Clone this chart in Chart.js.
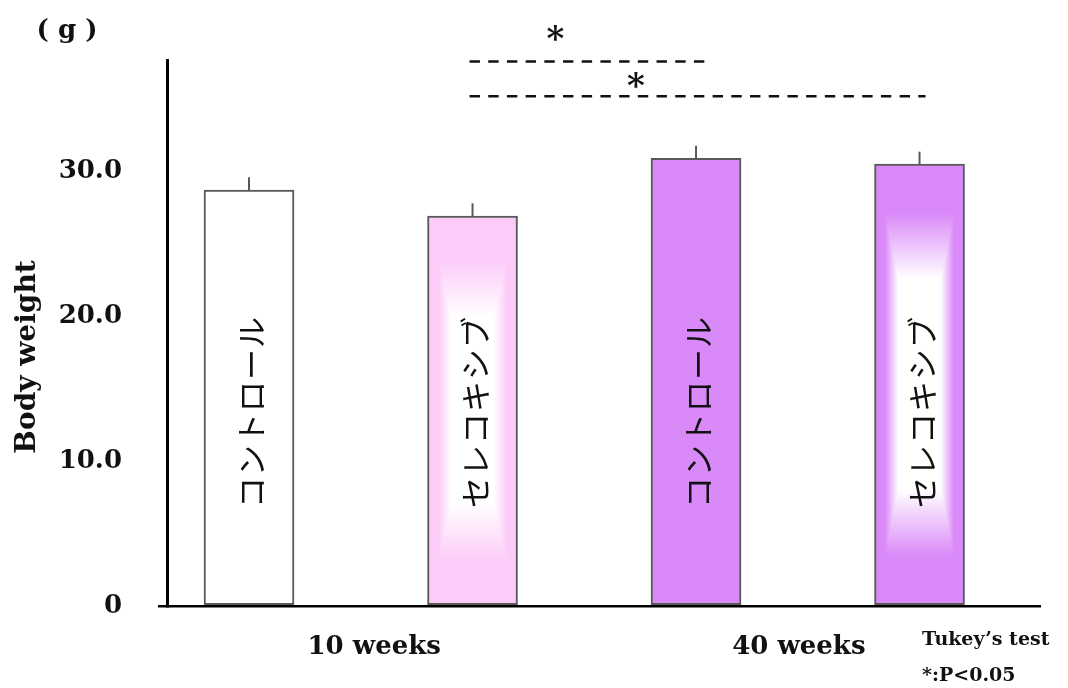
<!DOCTYPE html>
<html>
<head>
<meta charset="utf-8">
<script src="https://cdn.jsdelivr.net/npm/chart.js@4.4.1/dist/chart.umd.min.js"></script>
<style>
  html, body { margin: 0; padding: 0; background: #ffffff; }
  #wrap { width: 1068px; height: 688px; }
</style>
</head>
<body>
<div id="wrap"><canvas id="c" width="1068" height="688"></canvas></div>
<script>
// ---- data ----
const groupLabels = ['10 weeks', '40 weeks'];
const barNames = ['コントロール', 'セレコキシブ', 'コントロール', 'セレコキシブ'];
const means = [28.72, 26.93, 30.91, 30.52];
const sds = [0.88, 0.88, 0.87, 0.85];
const yTicks = [0, 10, 20, 30];
const sigPairs = [[1, 2], [1, 3]];
const sigMarks = ['*', '*'];

// ---- styling ----
const PINK = '#FCCBF8';
const PURPLE = '#DA8AF8';
const barColors = ['#FFFFFF', PINK, PURPLE, PURPLE];
const barGlow = [false, true, false, true];
const SERIF = '"DejaVu Serif", serif';
const EDGE = '#595959';

// bar i sits at x = i + 1 on a linear axis
const points = means.map((m, i) => ({ x: i + 1, y: m }));

// white "rectangle" glow: solid white core, fading outwards to the bar colour
function glowImage(w, h) {
  const off = document.createElement('canvas');
  off.width = w; off.height = h;
  const g = off.getContext('2d');
  const img = g.createImageData(w, h);
  const hw = w / 2, hh = h / 2;
  for (let yy = 0; yy < h; yy++) {
    for (let xx = 0; xx < w; xx++) {
      const t = Math.max(Math.abs(xx + 0.5 - hw) / hw, Math.abs(yy + 0.5 - hh) / hh);
      let a = 1 - (t - 0.48) / 0.30;
      a = Math.max(0, Math.min(1, a));
      const k = (yy * w + xx) * 4;
      img.data[k] = 255; img.data[k + 1] = 255; img.data[k + 2] = 255;
      img.data[k + 3] = Math.round(a * 255);
    }
  }
  g.putImageData(img, 0, 0);
  return off;
}

function textCentered(ctx, str, x, cy) {
  const m = ctx.measureText(str);
  ctx.textBaseline = 'alphabetic';
  ctx.fillText(str, x, cy + (m.actualBoundingBoxAscent - m.actualBoundingBoxDescent) / 2);
}

const decor = {
  id: 'decor',
  afterDatasetsDraw(chart) {
    const ctx = chart.ctx;
    const meta = chart.getDatasetMeta(0);
    const ys = chart.scales.y;
    meta.data.forEach((bar, i) => {
      const half = bar.width / 2;
      const left = bar.x - half, right = bar.x + half;
      const top = bar.y, bottom = bar.base;
      if (barGlow[i]) {
        const inset = 1;
        const w = Math.round(right - left - 2 * inset);
        const h = Math.round(bottom - top - 2 * inset);
        ctx.drawImage(glowImage(w, h), left + inset, top + inset);
      }
      // error bar (upper whisker only)
      ctx.save();
      ctx.strokeStyle = EDGE;
      ctx.lineWidth = 2;
      ctx.beginPath();
      ctx.moveTo(bar.x, top);
      ctx.lineTo(bar.x, ys.getPixelForValue(means[i] + sds[i]));
      ctx.stroke();
      ctx.restore();
      // vertical name inside the bar
      ctx.save();
      ctx.translate(bar.x + 2, ys.getPixelForValue(13.4));
      ctx.rotate(-Math.PI / 2);
      ctx.fillStyle = '#111';
      ctx.font = '31px "Noto Sans CJK JP"';
      ctx.letterSpacing = '1px';
      ctx.textAlign = 'center';
      textCentered(ctx, barNames[i], 0, 0);
      ctx.restore();
    });

    // significance lines
    const lineY = [37.6, 35.2];
    const starY = [39.55, 36.3];
    const endPad = [9, 6];
    sigPairs.forEach((p, k) => {
      const x0 = meta.data[p[0]].x - 3;
      const x1 = meta.data[p[1]].x + endPad[k];
      const y = ys.getPixelForValue(lineY[k]);
      ctx.save();
      ctx.strokeStyle = '#111';
      ctx.lineWidth = 2.6;
      ctx.setLineDash([10.4, 8.3]);
      ctx.beginPath();
      ctx.moveTo(x0, y);
      ctx.lineTo(x1, y);
      ctx.stroke();
      ctx.restore();
      ctx.save();
      ctx.fillStyle = '#111';
      ctx.font = 'bold 34px ' + SERIF;
      ctx.textAlign = 'center';
      textCentered(ctx, sigMarks[k], x0 + (x1 - x0) * 0.365, ys.getPixelForValue(starY[k]));
      ctx.restore();
    });
  },
  afterDraw(chart) {
    const ctx = chart.ctx;
    ctx.save();
    ctx.fillStyle = '#111';
    // unit
    ctx.font = 'bold 26px ' + SERIF;
    ctx.textAlign = 'center';
    textCentered(ctx, '( g )', 67, 30);
    // y-axis title
    ctx.save();
    ctx.translate(27, 357);
    ctx.rotate(-Math.PI / 2);
    ctx.font = 'bold 28px ' + SERIF;
    ctx.textAlign = 'center';
    textCentered(ctx, 'Body weight', 0, 0);
    ctx.restore();
    // test note
    ctx.textAlign = 'left';
    ctx.font = 'bold 19px ' + SERIF;
    textCentered(ctx, 'Tukey’s test', 922, 640);
    textCentered(ctx, '*:P<0.05', 922, 674);
    ctx.restore();
  }
};

new Chart(document.getElementById('c'), {
  type: 'bar',
  data: {
    datasets: [{
      data: points,
      backgroundColor: barColors,
      borderColor: EDGE,
      borderWidth: 2,
      borderSkipped: false,
      barThickness: 90
    }]
  },
  options: {
    responsive: false,
    animation: false,
    devicePixelRatio: 1,
    layout: { padding: { top: 60, right: 28, bottom: 0, left: 0 } },
    plugins: { legend: { display: false }, tooltip: { enabled: false } },
    scales: {
      x: {
        type: 'linear',
        offset: false,
        min: 0.633,
        max: 4.539,
        grid: { display: false, offset: false },
        border: { display: true, color: '#000', width: 2.5 },
        afterBuildTicks: (axis) => { axis.ticks = [{ value: 1.56 }, { value: 3.46 }]; },
        afterFit: (axis) => { axis.height = 82; },
        ticks: {
          color: '#111',
          font: { family: SERIF, size: 26, weight: 'bold' },
          padding: 18,
          maxRotation: 0,
          autoSkip: false,
          callback: (v, i) => groupLabels[i]
        }
      },
      y: {
        min: 0,
        max: 37.7,
        afterBuildTicks: (axis) => { axis.ticks = yTicks.map(v => ({ value: v })); },
        afterFit: (axis) => { axis.width = 167; },
        border: { display: true, color: '#000', width: 3 },
        grid: {
          drawOnChartArea: false,
          drawTicks: true,
          tickLength: 9,
          color: (c) => (c.tick && c.tick.value === 0 ? '#000' : 'rgba(0,0,0,0)'),
          lineWidth: 2.5
        },
        ticks: {
          color: '#111',
          font: { family: SERIF, size: 26, weight: 'bold' },
          padding: 36,
          callback: (v) => (v === 0 ? '0' : v.toFixed(1))
        }
      }
    }
  },
  plugins: [decor]
});
</script>
</body>
</html>
